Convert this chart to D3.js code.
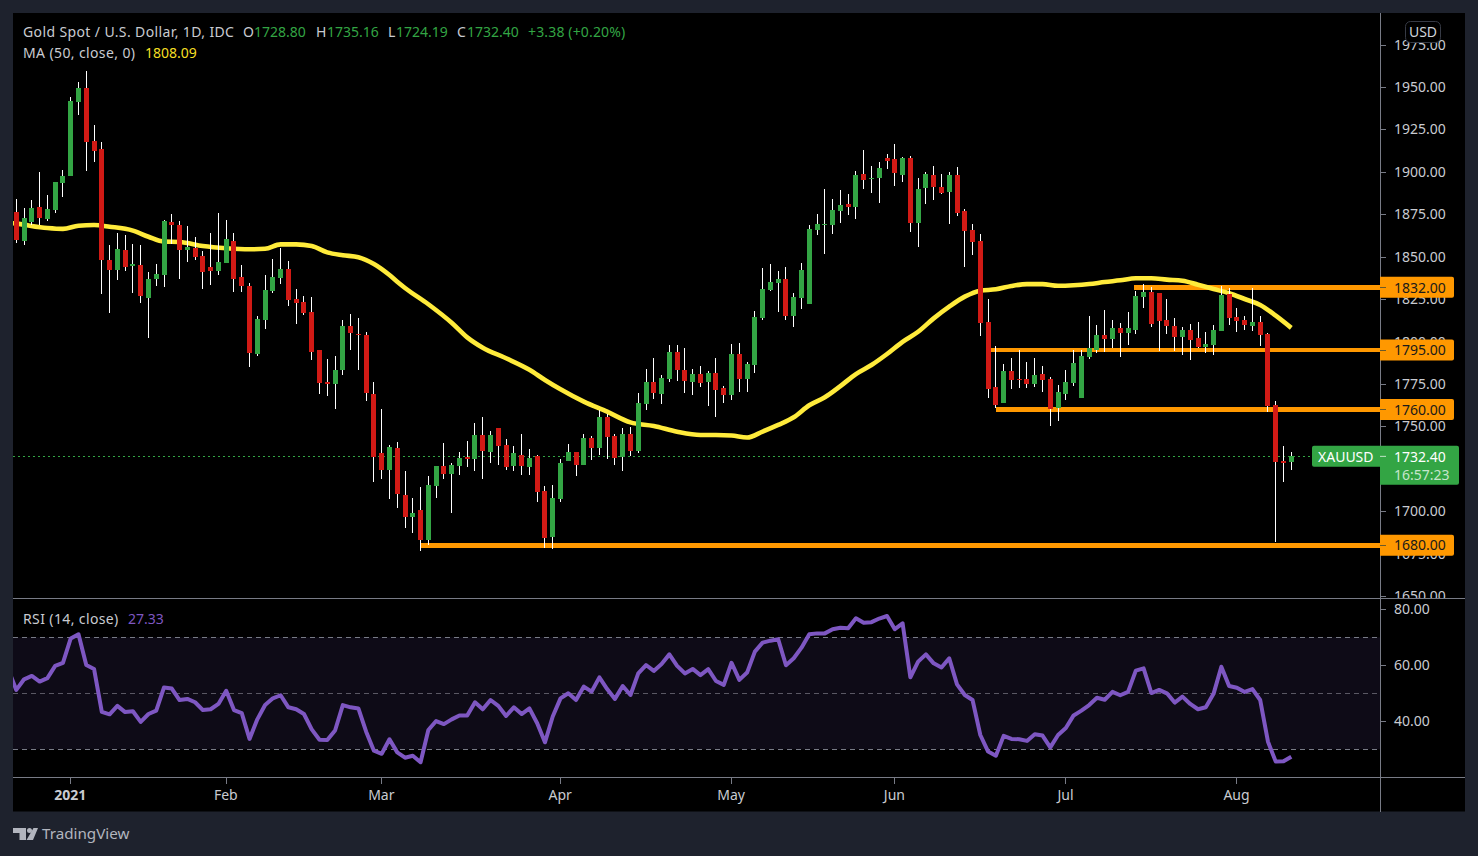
<!DOCTYPE html>
<html><head><meta charset="utf-8">
<script src="https://cdn.jsdelivr.net/npm/d3@7/dist/d3.min.js"></script>
<style>
html,body{margin:0;padding:0;background:#1e222d;overflow:hidden}
svg{display:block}
text{font-family:"Noto Sans",Roboto,sans-serif}
</style></head><body><svg id="c" width="1478" height="856"></svg>
<script>
const opens=[1876.3,1859.2,1870.4,1879.3,1872.2,1877.5,1893.4,1897.5,1941.2,1949.4,1918.2,1913.5,1848,1842.2,1853.9,1844.5,1845.1,1825.7,1836.9,1839.2,1870.4,1868.7,1853.9,1855.1,1850.4,1843.9,1841.6,1846.3,1859.2,1838,1832.7,1792.7,1812.7,1829.8,1837.4,1842.7,1825.1,1823.3,1817.4,1795.1,1776.2,1775,1783.3,1809.2,1804.5,1803.9,1769.1,1734.4,1724.3,1737.3,1709.6,1696.6,1700.8,1683.1,1714.9,1726.7,1722,1726.7,1732,1730.8,1745,1734.9,1749.1,1739.1,1726.7,1733.2,1726.1,1732.4,1712,1684.9,1707.3,1729.6,1734.9,1727.3,1743.2,1737.3,1755.6,1744.4,1732,1745.6,1735.5,1763.2,1776.2,1769.1,1777.9,1793.8,1783.2,1776.2,1780.9,1776.2,1781.5,1772.6,1768.5,1792.6,1777.9,1786.2,1813.9,1830.4,1834.5,1836.9,1815,1825.7,1822.1,1865.7,1868.7,1868.7,1876.9,1881,1879.3,1898.7,1895.8,1896.4,1908.1,1907.6,1898.1,1908.1,1869.9,1890.5,1898.1,1891,1888.1,1898.1,1876.9,1865.7,1859.2,1811.5,1773.2,1763.8,1782.6,1777.9,1777.9,1775,1780.9,1777.9,1760.8,1769.1,1775.6,1766.7,1790.9,1795,1803.9,1801.5,1808,1805,1806.8,1826.2,1829.2,1828.6,1812.7,1809.2,1802.7,1806.8,1802,1796.8,1798,1806.2,1828,1814.5,1812.7,1809.2,1811.5,1804.4,1762.6,1729.6,1728.8];
const highs=[1883.8,1878.5,1883.4,1899.9,1886.3,1894,1901.1,1944.1,1952.9,1959.4,1927.6,1917.6,1856.9,1864,1862.8,1857.5,1856.9,1841,1845.7,1871.6,1875.2,1871,1868.1,1861.6,1853.4,1864,1875.7,1871.6,1864,1845.1,1834.5,1815,1839.2,1848.6,1855.1,1847.5,1831,1826.9,1826.3,1795.1,1789.7,1791.5,1812.7,1816.3,1813.9,1805.7,1776.2,1760.3,1739.1,1740.8,1723.8,1707.8,1714.3,1720.8,1726.7,1740.3,1728.5,1734.9,1741.4,1752,1755.6,1747.3,1749.1,1742.6,1738.5,1745.6,1736.7,1733.2,1714.9,1715.5,1730.8,1739.7,1734.9,1745.6,1744.4,1759.7,1757.3,1745.6,1749.1,1749.7,1769.7,1783.9,1790.3,1780.3,1798,1798,1796.2,1783.8,1785.6,1782.7,1790.3,1773.8,1798.5,1799.1,1787.9,1818,1843.3,1845.7,1841.6,1844,1828.6,1846.3,1868.7,1875.2,1889.9,1884,1889.3,1887,1900.5,1912.9,1903.4,1905.8,1910.5,1916.4,1908.7,1909.3,1896.4,1899.9,1903.4,1898.7,1899.9,1902.8,1878.1,1869.3,1863.4,1825,1797.4,1786.8,1790.3,1795,1788,1790.3,1785.6,1779.1,1774.4,1783.2,1795,1795,1815,1809.7,1818.6,1812.7,1810.9,1817.4,1829.8,1833.9,1832.1,1828.6,1825,1813.9,1808.6,1810.3,1811.5,1805.6,1809.7,1832.7,1831.5,1819.8,1815,1831.5,1815,1805,1765,1738.4,1735.16];
const lows=[1858.3,1856.9,1868.7,1868.7,1871,1875.9,1885.2,1897.5,1933.5,1900.5,1905.8,1828,1816.8,1836.3,1841.6,1828.6,1822.7,1802.1,1832.7,1832.1,1857.5,1836.9,1846.9,1848,1831,1833.3,1839.2,1846.3,1829.2,1829.2,1785,1791.5,1807.4,1828.6,1833.9,1820.9,1810.3,1815.7,1789.2,1769.1,1767.9,1760.3,1780.3,1795.1,1783.3,1765,1717.3,1719,1707.3,1701.9,1690.2,1687.2,1676.6,1680.1,1707.8,1719,1699,1721.4,1726.1,1723.8,1719,1728.5,1727.3,1724.3,1723.8,1721.4,1721.4,1705.5,1678.4,1677.8,1705.5,1729.6,1720.8,1727.3,1730.2,1733.2,1730.8,1727.3,1723.8,1732.6,1734.4,1759.7,1766.1,1763.2,1776.2,1776.7,1769.7,1768.5,1773.2,1762,1755.5,1763.8,1765.5,1770.2,1770.2,1781.5,1812.7,1829.8,1817.4,1812.7,1808.6,1819.2,1822.1,1862.8,1851.6,1863.4,1869.9,1874.6,1872.2,1889.9,1887.5,1881.6,1901.7,1891.7,1894,1864.5,1855.7,1881,1883.4,1886.9,1869.3,1874,1843.9,1851,1803.3,1766.7,1760.8,1763.8,1772,1772.6,1772.6,1773.2,1770.3,1750.2,1753.2,1765.6,1773.8,1766.7,1789.7,1793.2,1793.9,1796.2,1790.9,1798,1804.4,1819.8,1808.6,1794.4,1804.4,1794.4,1792.1,1789.1,1796.2,1793.2,1792.1,1806.2,1809.7,1805.6,1806.8,1806.2,1797.4,1758.5,1681.9,1717.2,1724.19];
const closes=[1859.8,1872.8,1878.7,1872.8,1878.1,1894,1897.5,1941.7,1949.4,1917.6,1912.3,1848,1842.2,1854.5,1843.9,1845.7,1826.8,1836.9,1839.8,1871,1868.7,1853.9,1855.7,1849.8,1841,1841.6,1846.9,1860.4,1836.9,1832.7,1793.2,1813.3,1830.4,1838,1842.7,1824.5,1822.7,1816.9,1793.9,1775.6,1775,1783.3,1809.2,1805.1,1803.9,1769.7,1732,1724.3,1737.9,1710.2,1696.6,1699,1683.1,1715.5,1726.7,1722,1727.3,1731.4,1730.8,1745,1735.5,1745,1738.5,1726.1,1734.4,1726.7,1731.4,1711.4,1684.3,1707.8,1728.5,1734.9,1727.3,1743.2,1737.3,1755.6,1743.8,1731.4,1745.6,1735.5,1763.8,1776.2,1769.7,1778.5,1793.8,1783.2,1776.7,1780.9,1775.6,1781.5,1771.4,1768.5,1792.6,1777.9,1786.8,1814.5,1831,1835.1,1836.9,1815,1826.2,1842.2,1866.3,1869.3,1869.3,1877.5,1880.5,1879.3,1898.1,1895.2,1896.4,1902.3,1906.4,1899.3,1908.1,1869.9,1889.9,1898.7,1891,1887.5,1898.1,1875.7,1865.1,1858.6,1810.9,1772,1762.6,1782.6,1777.3,1777.3,1775,1780.3,1777.3,1760.2,1770.3,1776.2,1787.4,1791.5,1796.2,1803.9,1801.5,1808,1805,1808,1826.8,1829.2,1810.3,1812,1809.2,1802.7,1806.8,1800.9,1796.8,1798.5,1806.8,1827.4,1813.9,1812,1809.7,1811.5,1803.9,1762,1729,1728.4,1732.4];

// 50-day moving average at these bars
const maBars=[-1,0,4,6,8,10,12,15,17,19,21,24,27,30,32,34,36,38,40,42,44,46,48,49,50,53,56,58,60,63,66,68,70,73,76,79,82,85,88,90,92,94,96,98,100,102,104,106,108,110,112,114,116,118,120,122,124,126,128,130,132,134,136,138,140,142,144,146,148,150,152,154,156,158,160,162,164];
const maValues=[1870,1869.5,1866.9,1866.4,1868.3,1868.7,1867.7,1865.4,1861.8,1858.9,1858.7,1856.3,1855,1854.4,1854.7,1857.3,1857.3,1856.3,1852.6,1850.9,1849.7,1845.7,1839.2,1835.3,1831.6,1822,1811.1,1802.5,1796.4,1790.2,1783.4,1777.4,1771.9,1764.6,1758.7,1752.4,1750.3,1746.9,1745,1745,1744.7,1743.5,1747,1750.9,1755.4,1762.5,1767.2,1773.8,1780.9,1786.2,1792.7,1799.9,1805.8,1813.7,1820.6,1826.5,1830,1830.8,1832.8,1833.9,1833.9,1832.9,1833.2,1833.9,1835.1,1836.1,1837.3,1837.3,1836.5,1835.9,1833.5,1831,1828.5,1825.1,1821.6,1815.3,1808.09];

// RSI, one value per bar plus one bar before the left edge
const rsiValues=[58.3,51.2,55,56.2,54.2,55.4,59.8,60.9,69.6,71.1,60.1,58.7,43.4,42.5,45.5,43.3,43.6,39.8,42.6,43.8,52.1,51.7,47.6,48,46.8,44,44.3,46.2,50.9,44,42.9,33.7,40.7,45.8,48.2,49.3,45,44.3,42.6,37.1,33.4,33.3,36.7,45.8,45,44.6,36.3,29.5,28.4,33.6,28.9,27,27.7,25.4,36.9,40.1,39,40.7,42.1,42.1,46.8,44.3,47.6,45.5,41.9,45,42.6,44.6,39.3,32.5,41.7,48.2,50,47.6,52.4,50.6,55.7,51.5,48,52.6,49.4,57.1,60.1,58,60.5,63.9,59.8,57.1,58.7,56.5,58.6,54.4,53,60.9,54.8,57.4,64.9,68.1,68.8,69.3,60,62.5,66.3,71.1,71.4,71.4,72.9,73.4,73.2,76.8,75.2,75.4,76.7,77.6,72.9,75,55.7,61.3,63.9,60.7,59.2,62.5,53.2,49.4,47.6,35.1,29.2,27.7,34.8,33.7,33.6,33,35.4,34.9,30.7,35.1,37.6,42.1,43.8,45.8,48.4,47.7,50.5,49.3,50.5,58.1,58.9,50.1,51.2,50,46.7,48.8,46.2,44.3,45,49.8,59.5,52.6,52,50.5,51.5,47.6,32.7,25.6,25.7,27.33];

const priceTicks=[1975,1950,1925,1900,1875,1850,1825,1800,1775,1750,1725,1700,1675,1650];
const rsiTicks=[80,60,40];
const rsiBands=[70,50,30];
const monthBars=[7,27,47,70,92,113,135,157];
const monthLabels=["2021","Feb","Mar","Apr","May","Jun","Jul","Aug"];
const levelPrices=[1832,1795,1760,1680];
const levelStartBars=[143.8,125.3,126,52];
const lastPrice=1732.40;

const W=1478,H=856,L=13,T=13,R=1465,B=811.5,AX=1380,PANE=598.3,RB=777.5;
const bg="#000000",frame="#1e222d",sepC="#787b86",axisText="#c9cbd1",FS=14;
const up="#33a544",down="#d11a15",orange="#ff9800",yellow="#ffeb3b",purple="#7e57c2";

const svg=d3.select("#c");
svg.append("rect").attr("width",W).attr("height",H).attr("fill",frame);
svg.append("rect").attr("x",L).attr("y",T).attr("width",R-L).attr("height",B-T).attr("fill",bg);
const defs=svg.append("defs");
defs.append("clipPath").attr("id","main").append("rect").attr("x",L).attr("y",T).attr("width",AX-L).attr("height",PANE-T);
defs.append("clipPath").attr("id","lab").append("rect").attr("x",AX).attr("y",T).attr("width",R-AX).attr("height",PANE-T);
defs.append("clipPath").attr("id","rsi").append("rect").attr("x",L).attr("y",PANE).attr("width",AX-L).attr("height",RB-PANE);

const x=d3.scaleLinear().domain([0,164]).range([16.3,1291.3]);
const y=d3.scaleLinear().domain([1650,1832]).range([596.2,287.3]);
const yr=d3.scaleLinear().domain([30,80]).range([749.3,609.3]);

// price axis
const gp=svg.append("g").attr("clip-path","url(#lab)");
const gpa=gp.append("g").attr("transform",`translate(${AX},0)`).call(d3.axisRight(y).tickValues(priceTicks).tickSize(6).tickPadding(8).tickFormat(d3.format(".2f")));
const styleAxis=g=>{g.select(".domain").remove();g.selectAll("line").attr("stroke",sepC).attr("shape-rendering","crispEdges");g.selectAll("text").attr("fill",axisText).attr("font-size",FS).attr("font-family",'"Noto Sans",sans-serif');};
styleAxis(gpa);

// last price dotted line
const mainG=svg.append("g").attr("clip-path","url(#main)");
mainG.append("line").attr("x1",L).attr("x2",1311).attr("y1",Math.round(y(lastPrice))+.5).attr("y2",Math.round(y(lastPrice))+.5).attr("stroke",up).attr("stroke-dasharray","2 3").attr("shape-rendering","crispEdges");

// levels
mainG.append("g").selectAll("line").data(levelPrices).join("line")
 .attr("x1",(d,i)=>x(levelStartBars[i])).attr("x2",AX).attr("y1",d=>y(d)).attr("y2",d=>y(d))
 .attr("stroke",orange).attr("stroke-width",4.8).attr("shape-rendering","crispEdges");

// MA
mainG.append("path").datum(maBars.map((b,i)=>[b,maValues[i]]))
 .attr("fill","none").attr("stroke",yellow).attr("stroke-width",4.6).attr("stroke-linejoin","round")
 .attr("d",d3.line().x(d=>x(d[0])).y(d=>y(d[1])).curve(d3.curveMonotoneX));

// candles
const cg=mainG.append("g").attr("shape-rendering","crispEdges");
const idx=d3.range(opens.length);
cg.selectAll("rect.w").data(idx).join("rect").attr("class","w")
 .attr("x",i=>Math.floor(x(i))).attr("width",1)
 .attr("y",i=>y(highs[i])).attr("height",i=>y(lows[i])-y(highs[i])).attr("fill","#ffffff");
cg.selectAll("rect.b").data(idx).join("rect").attr("class","b")
 .attr("x",i=>Math.floor(x(i))-2).attr("width",5)
 .attr("y",i=>y(Math.max(opens[i],closes[i])))
 .attr("height",i=>Math.max(1,Math.abs(y(opens[i])-y(closes[i]))))
 .attr("fill",i=>closes[i]>=opens[i]?up:down);

// RSI band
const rg=svg.append("g").attr("clip-path","url(#rsi)");
rg.append("rect").attr("x",L).attr("width",AX-L).attr("y",yr(70)).attr("height",yr(30)-yr(70)).attr("fill","#0e0b17");
rg.selectAll("line").data(rsiBands).join("line").attr("x1",L).attr("x2",AX).attr("y1",d=>Math.round(yr(d))+.5).attr("y2",d=>Math.round(yr(d))+.5)
 .attr("stroke",d=>d===50?"#5a5864":"#787b86").attr("stroke-dasharray","5 4");
rg.append("path").datum(rsiValues).attr("fill","none").attr("stroke",purple).attr("stroke-width",4).attr("stroke-linejoin","round")
 .attr("d",d3.line().x((d,i)=>x(i-1)).y(d=>yr(d)));

// RSI axis
const gr=svg.append("g").attr("transform",`translate(${AX},0)`).call(d3.axisRight(yr).tickValues(rsiTicks).tickSize(6).tickPadding(8).tickFormat(d3.format(".2f")));
styleAxis(gr);

// time axis
const tx=d3.axisBottom(x).tickValues(monthBars).tickSize(6).tickPadding(4).offset(0).tickFormat((d,i)=>monthLabels[i]);
const gt=svg.append("g").attr("transform",`translate(0,${RB})`).call(tx);
styleAxis(gt);
gt.selectAll("text").attr("font-weight",(d,i)=>i===0?"700":"400").attr("dy","0.9em").attr("dx","-0.4");

// separators
const sep=svg.append("g").attr("stroke",sepC).attr("shape-rendering","crispEdges");
sep.append("line").attr("x1",L).attr("x2",R).attr("y1",PANE).attr("y2",PANE);
sep.append("line").attr("x1",L).attr("x2",R).attr("y1",RB).attr("y2",RB);
sep.append("line").attr("x1",AX+.5).attr("x2",AX+.5).attr("y1",T).attr("y2",B);

// level tags
const tagG=svg.append("g");
levelPrices.forEach(p=>{
  const cy=y(p);
  tagG.append("path").attr("d",`M${AX} ${cy-10.5}H1452a2 2 0 0 1 2 2V${cy+8.5}a2 2 0 0 1 -2 2H${AX}Z`).attr("fill",orange);
  tagG.append("line").attr("x1",AX).attr("x2",AX+6).attr("y1",cy).attr("y2",cy).attr("stroke","#6b5a2a").attr("shape-rendering","crispEdges");
  tagG.append("text").attr("x",1394).attr("y",cy+.3).attr("dy",".35em").attr("font-size",FS).attr("fill","#1a1a1a").text(d3.format(".2f")(p));
});

// last price tag
const ly=y(lastPrice);
tagG.append("path").attr("d",`M1314 ${ly-10.5}H1457a2 2 0 0 1 2 2V${ly+26.5}a2 2 0 0 1 -2 2H${AX}V${ly+10.5}H1314a2 2 0 0 1 -2 -2V${ly-8.5}a2 2 0 0 1 2 -2Z`).attr("fill",up);
tagG.append("line").attr("x1",AX).attr("x2",AX+6).attr("y1",ly).attr("y2",ly).attr("stroke","#ffffff").attr("opacity",.7);
tagG.append("text").attr("x",1318).attr("y",ly+.3).attr("dy",".35em").attr("font-size",FS).attr("fill","#fff").text("XAUUSD");
tagG.append("text").attr("x",1394).attr("y",ly+.3).attr("dy",".35em").attr("font-size",FS).attr("fill","#fff").text(d3.format(".2f")(lastPrice));
tagG.append("text").attr("x",1394).attr("y",ly+18.5).attr("dy",".35em").attr("font-size",FS).attr("fill","#c6e6cb").text("16:57:23");

// currency box
svg.append("rect").attr("x",1405.5).attr("y",21.5).attr("width",35).attr("height",21).attr("rx",5).attr("fill","#000").attr("stroke","#363a45");
svg.append("text").attr("x",1423).attr("y",32).attr("dy",".35em").attr("text-anchor","middle").attr("font-size",FS).attr("fill","#d1d4dc").text("USD");

// legends
const legendItems=[
 ["Gold Spot / U.S. Dollar, 1D, IDC",23,32.3,"#c9cbd1",.38],["O",243,32.3,"#c9cbd1",0],["1728.80",254,32.3,up,0],["H",316,32.3,"#c9cbd1",0],["1735.16",327,32.3,up,0],
 ["L",388,32.3,"#c9cbd1",0],["1724.19",396,32.3,up,0],["C",457,32.3,"#c9cbd1",0],["1732.40",467,32.3,up,0],["+3.38 (+0.20%)",528,32.3,up,.15],
 ["MA (50, close, 0)",23,53.3,"#c9cbd1",.38],["1808.09",145,53.3,"#f5df24",0],
 ["RSI (14, close)",23,618.8,"#c9cbd1",.38],["27.33",128,618.8,purple,0]];
svg.append("g").selectAll("text").data(legendItems).join("text")
 .attr("x",d=>d[1]).attr("y",d=>d[2]).attr("dy",".35em").attr("font-size",FS).attr("letter-spacing",d=>d[4]).attr("fill",d=>d[3]).text(d=>d[0]);

// brand
const logo=svg.append("g").attr("transform","translate(13,828)").attr("fill","#b2b5be");
logo.append("path").attr("d","M0 0H13V12H6.5V5H0ZM20.5 0H25L20 12H13.5Z");
logo.append("circle").attr("cx",16.5).attr("cy",2.5).attr("r",2.5);
svg.append("text").attr("x",42).attr("y",834).attr("dy",".35em").attr("font-size",15.2).attr("fill","#b2b5be").text("TradingView");
</script></body></html>
